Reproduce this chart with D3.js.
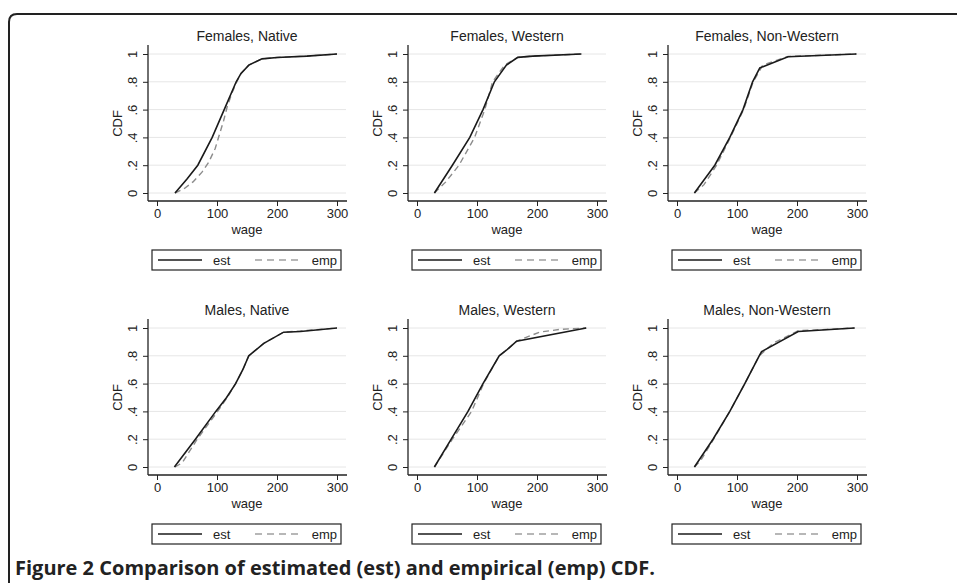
<!DOCTYPE html>
<html lang="en">
<head>
<meta charset="utf-8">
<title>Comparison of estimated and empirical CDF</title>
<script src="https://d3js.org/d3.v7.min.js"></script>
<style type="text/css">
  body { margin: 0; background: #fff; }
  svg { width: 957px; height: 583px; display: block; }
  .ptitle { font-family: "Liberation Sans", Arial, sans-serif; font-size: 14px; fill: #222; }
  .tick text, .lab { font-family: "Liberation Sans", Arial, sans-serif; font-size: 13px; fill: #222; }
  .caption { font-family: "Open Sans", "DejaVu Sans", sans-serif; font-weight: bold; font-size: 20px; fill: #222; }
</style>
</head>
<body>
<svg></svg>
<script type="text/javascript">

// ---- data ----
const panelTitles = ["Females, Native", "Females, Western", "Females, Non-Western",
                     "Males, Native", "Males, Western", "Males, Non-Western"];
const xTicks = [0, 100, 200, 300];
const yTicks = [0, 0.2, 0.4, 0.6, 0.8, 1];
const yTickLabels = ["0", ".2", ".4", ".6", ".8", "1"];
const seriesNames = ["est", "emp"];

// [wage, CDF]
const estFemNative = [[30,0],[50,0.1],[68,0.2],[92,0.4],[112,0.6],[132,0.8],[140,0.86],[153,0.92],[175,0.965],[200,0.975],[250,0.985],[300,1]];
const empFemNative = [[30,0],[45,0.03],[60,0.08],[75,0.15],[86,0.22],[97,0.32],[104,0.42],[111,0.52],[117,0.62],[125,0.72],[133,0.8],[140,0.86],[153,0.92],[175,0.965],[200,0.975],[250,0.985],[300,1]];
const estFemWestern = [[29,0],[59,0.2],[88,0.4],[110,0.6],[129,0.8],[149,0.92],[168,0.976],[193,0.985],[274,1]];
const empFemWestern = [[29,0],[48,0.08],[70,0.2],[96,0.4],[113,0.6],[126,0.8],[146,0.92],[168,0.976],[193,0.985],[274,1]];
const estFemNonWest = [[29,0],[63,0.2],[88,0.4],[110,0.6],[126,0.8],[138,0.9],[185,0.98],[299,1]];
const empFemNonWest = [[29,0],[45,0.06],[66,0.2],[89,0.4],[111,0.6],[127,0.8],[143,0.92],[185,0.982],[299,1]];
const estMalNative = [[29,0],[64,0.2],[98,0.4],[116,0.5],[131,0.6],[143,0.7],[153,0.8],[178,0.89],[211,0.97],[239,0.975],[300,1]];
const empMalNative = [[30,0],[42,0.03],[67,0.2],[101,0.4],[117,0.5],[131,0.6],[143,0.7],[153,0.8],[178,0.89],[211,0.97],[239,0.978],[300,1]];
const estMalWestern = [[29,0],[57,0.2],[85,0.4],[110,0.6],[137,0.8],[149,0.84],[166,0.905],[282,1]];
const empMalWestern = [[29,0],[59,0.2],[91,0.4],[111,0.6],[137,0.8],[149,0.84],[166,0.905],[204,0.97],[238,0.99],[282,1]];
const estMalNonWest = [[29,0],[60,0.2],[88,0.4],[113,0.6],[137,0.8],[141,0.83],[202,0.975],[296,1]];
const empMalNonWest = [[29,0],[40,0.05],[61,0.2],[88,0.4],[113,0.6],[137,0.8],[160,0.89],[202,0.98],[296,1]];

const estSeries = [estFemNative, estFemWestern, estFemNonWest, estMalNative, estMalWestern, estMalNonWest];
const empSeries = [empFemNative, empFemWestern, empFemNonWest, empMalNative, empMalWestern, empMalNonWest];

// ---- layout ----
const colStep = 260, rowStep = 274;
const svg = d3.select("svg");

// outer frame with rounded top-left corner
svg.append("path")
   .attr("d", "M9,583 L9,22 Q9,14 17,14 L957,14")
   .attr("fill", "none")
   .attr("stroke", "#222")
   .attr("stroke-width", 2);

panelTitles.forEach((title, i) => {
  const c = i % 3, r = Math.floor(i / 3);
  const ox = c * colStep, oy = r * rowStep;

  const x = d3.scaleLinear().domain([0, 300]).range([157 + ox, 337 + ox]);
  const y = d3.scaleLinear().domain([0, 1]).range([193 + oy, 54 + oy]);

  const left = x(0) - 9, right = x(300) + 9;
  const top = y(1) - 9, bottom = y(0) + 8;

  const g = svg.append("g");

  // grid lines
  g.selectAll(".grid").data(yTicks).enter().append("line")
    .attr("x1", left + 1).attr("x2", right)
    .attr("y1", d => y(d)).attr("y2", d => y(d))
    .attr("stroke", "#e6e6e6").attr("stroke-width", 1);

  // axes
  const xAxis = g.append("g")
    .attr("transform", "translate(0," + bottom + ")")
    .call(d3.axisBottom(x).tickValues(xTicks).tickSize(5).tickPadding(3));
  xAxis.select(".domain").remove();
  xAxis.selectAll("line").attr("stroke", "#222");

  const yAxis = g.append("g")
    .attr("transform", "translate(" + left + ",0)")
    .call(d3.axisLeft(y).tickValues(yTicks).tickSize(5)
            .tickFormat((d, k) => yTickLabels[k]));
  yAxis.select(".domain").remove();
  yAxis.selectAll("line").attr("stroke", "#222");
  // Stata-style vertical tick labels
  yAxis.selectAll("text")
    .attr("x", 0).attr("y", 0).attr("dy", null)
    .attr("text-anchor", "middle")
    .attr("transform", "translate(-11,0) rotate(-90)");

  g.append("line")
    .attr("x1", left).attr("x2", right + 1)
    .attr("y1", bottom).attr("y2", bottom)
    .attr("stroke", "#222").attr("stroke-width", 1.3);
  g.append("line")
    .attr("x1", left).attr("x2", left)
    .attr("y1", top).attr("y2", bottom)
    .attr("stroke", "#222").attr("stroke-width", 1.3);

  // titles and axis labels
  g.append("text").attr("class", "ptitle")
    .attr("x", (left + right) / 2).attr("y", 41 + oy)
    .attr("text-anchor", "middle").text(title);

  g.append("text").attr("class", "lab")
    .attr("x", (left + right) / 2).attr("y", 234 + oy)
    .attr("text-anchor", "middle").text("wage");

  g.append("text").attr("class", "lab")
    .attr("text-anchor", "middle")
    .attr("transform", "translate(" + (left - 26) + "," + ((y(0) + y(1)) / 2) + ") rotate(-90)")
    .text("CDF");

  // curves
  const line = d3.line().x(d => x(d[0])).y(d => y(d[1]));
  g.append("path").datum(empSeries[i])
    .attr("d", line).attr("fill", "none")
    .attr("stroke", "#8c8c8c").attr("stroke-width", 1.4)
    .attr("stroke-dasharray", "6,4");
  g.append("path").datum(estSeries[i])
    .attr("d", line).attr("fill", "none")
    .attr("stroke", "#1a1a1a").attr("stroke-width", 1.6);

  // legend
  const ly = 250 + oy, lx = left + 4;
  g.append("rect")
    .attr("x", lx).attr("y", ly).attr("width", 189).attr("height", 20)
    .attr("fill", "#fff").attr("stroke", "#222").attr("stroke-width", 1.2);
  g.append("line")
    .attr("x1", lx + 6).attr("x2", lx + 50).attr("y1", ly + 10).attr("y2", ly + 10)
    .attr("stroke", "#1a1a1a").attr("stroke-width", 1.6);
  g.append("text").attr("class", "lab")
    .attr("x", lx + 61).attr("y", ly + 15).text(seriesNames[0]);
  g.append("line")
    .attr("x1", lx + 103).attr("x2", lx + 148).attr("y1", ly + 10).attr("y2", ly + 10)
    .attr("stroke", "#a0a0a0").attr("stroke-width", 1.4)
    .attr("stroke-dasharray", "7,5");
  g.append("text").attr("class", "lab")
    .attr("x", lx + 185).attr("y", ly + 15)
    .attr("text-anchor", "end").text(seriesNames[1]);
});

svg.append("text").attr("class", "caption")
   .attr("x", 15).attr("y", 575)
   .text("Figure 2 Comparison of estimated (est) and empirical (emp) CDF.");

</script>
</body>
</html>
